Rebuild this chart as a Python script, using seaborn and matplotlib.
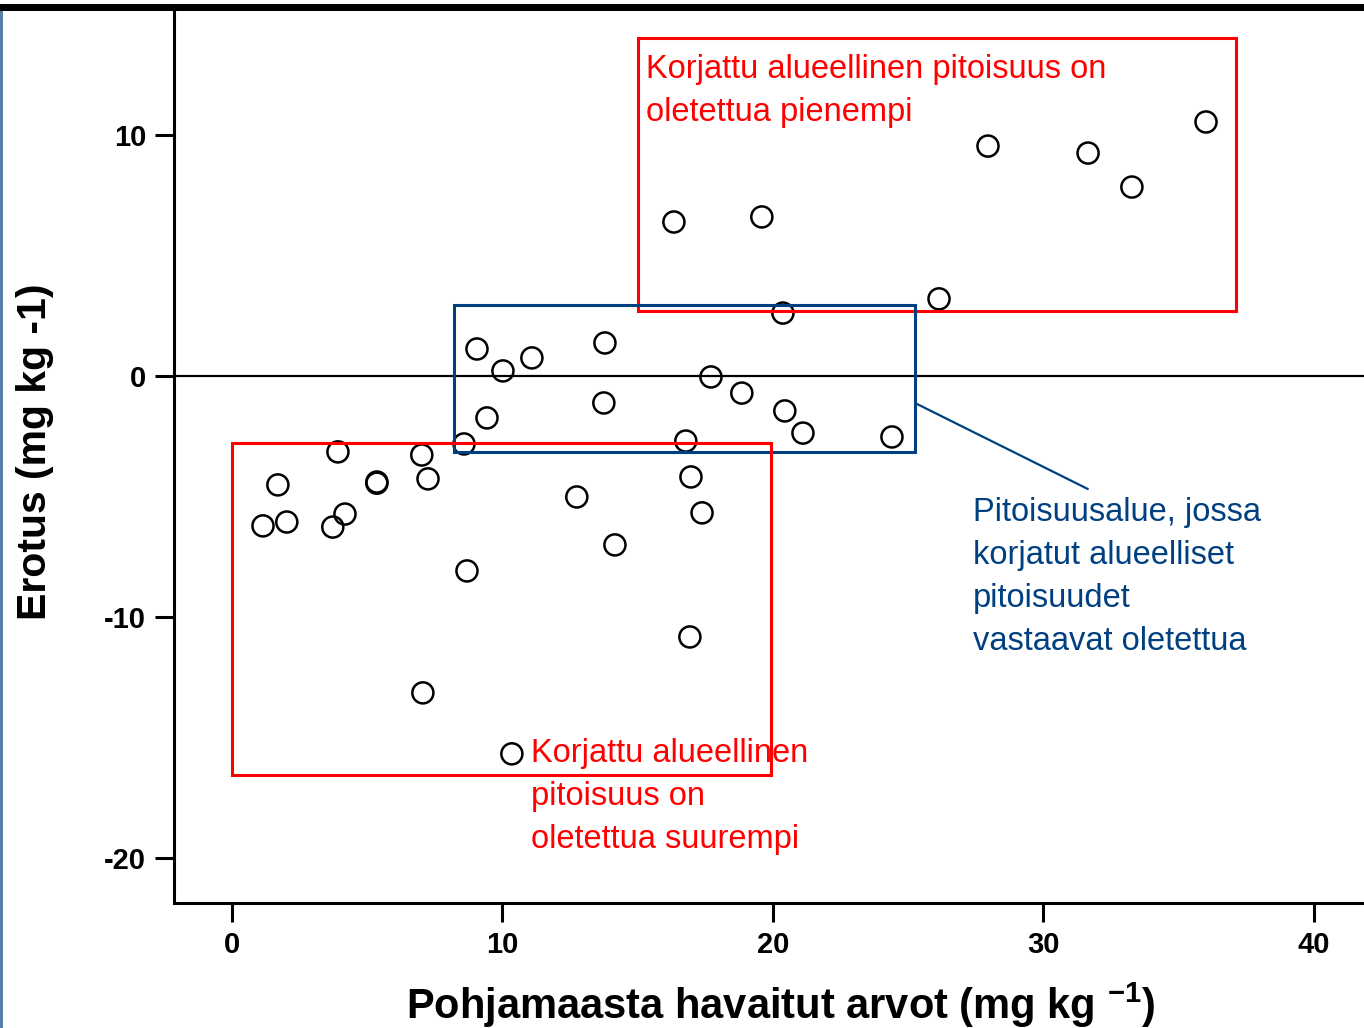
import matplotlib
matplotlib.use('Agg')
import matplotlib.pyplot as plt
from matplotlib.patches import Rectangle
import seaborn as sns
import pandas as pd

# havaitut arvot (x) ja erotus (y)
havaitut = [16.34, 19.59, 27.95, 31.65, 33.27, 36.01, 26.14, 20.37,
            9.06, 10.02, 11.09, 13.79, 9.43, 13.75, 17.71, 18.85, 20.44,
            21.11, 24.40, 16.78, 8.58,
            3.92, 7.02, 7.25, 5.36, 5.36, 1.70, 1.15, 2.03, 3.73, 4.18,
            8.69, 7.06, 12.75, 14.16, 16.97, 17.38, 16.93, 10.35]
erotus = [6.39, 6.60, 9.54, 9.25, 7.84, 10.54, 3.20, 2.61,
          1.12, 0.21, 0.75, 1.37, -1.74, -1.12, -0.04, -0.71, -1.45,
          -2.37, -2.53, -2.70, -2.82,
          -3.15, -3.28, -4.27, -4.40, -4.45, -4.52, -6.22, -6.06, -6.27, -5.73,
          -8.09, -13.15, -5.02, -7.01, -4.19, -5.68, -10.83, -15.68]

x_ticks = [0, 10, 20, 30, 40]
y_ticks = [10, 0, -10, -20]

# laatikot: (x0, y0, x1, y1)
box_pienempi = (15.01, 2.70, 37.12, 14.02)
box_vastaava = (8.21, -3.15, 25.25, 2.95)
box_suurempi = (0.0, -16.56, 19.93, -2.78)

txt_pienempi = ['Korjattu alueellinen pitoisuus on', 'oletettua pienempi']
txt_vastaava = ['Pitoisuusalue, jossa', 'korjatut alueelliset',
                'pitoisuudet', 'vastaavat oletettua']
txt_suurempi = ['Korjattu alueellinen', 'pitoisuus on', 'oletettua suurempi']

df = pd.DataFrame({'havaitut': havaitut, 'erotus': erotus})

sns.set_style('ticks')
plt.rcParams['font.family'] = ['Liberation Sans', 'DejaVu Sans']
plt.rcParams['mathtext.fontset'] = 'custom'
plt.rcParams['mathtext.bf'] = 'Liberation Sans:bold'
plt.rcParams['mathtext.rm'] = 'Liberation Sans'
plt.rcParams['axes.unicode_minus'] = False
plt.rcParams['text.color'] = 'black'
plt.rcParams['axes.labelcolor'] = 'black'
plt.rcParams['xtick.color'] = 'black'
plt.rcParams['ytick.color'] = 'black'

RED = '#ff0000'
BLUE = '#004080'

fig = plt.figure(figsize=(13.64, 10.28), dpi=100)
ax = fig.add_axes([174 / 1364, 125 / 1028, 1190 / 1364, 895 / 1028])

sns.scatterplot(data=df, x='havaitut', y='erotus', ax=ax, marker='o', s=230,
                facecolor='none', edgecolor='black', linewidth=1.8, zorder=3)

ax.axhline(0, color='black', lw=1.6, zorder=2)

ax.set_xlim(-2.14, 41.85)
ax.set_ylim(-21.87, 15.27)
ax.set_xticks(x_ticks)
ax.set_yticks(y_ticks)
ax.tick_params(length=14, width=2.2, color='black', labelcolor='black',
               labelsize=21, pad=6)
for lab in ax.get_xticklabels() + ax.get_yticklabels():
    lab.set_fontweight('bold')

for s in ['top', 'right']:
    ax.spines[s].set_visible(False)
for s in ['left', 'bottom']:
    ax.spines[s].set_linewidth(2.2)
    ax.spines[s].set_color('black')

ax.set_xlabel('Pohjamaasta havaitut arvot (mg kg $^{\\mathbf{-1}}$)',
              fontsize=30, fontweight='bold')
ax.xaxis.set_label_coords(0.51, -0.114)
ax.xaxis.label.set_va('center')
ax.set_ylabel('Erotus (mg kg -1)', fontsize=29.5, fontweight='bold')
ax.yaxis.set_label_coords(-0.117, 0.504)
ax.yaxis.label.set_va('center')

# laatikot
for (x0, y0, x1, y1), col in [(box_pienempi, RED), (box_vastaava, BLUE),
                              (box_suurempi, RED)]:
    ax.add_patch(Rectangle((x0, y0), x1 - x0, y1 - y0, fill=False,
                           edgecolor=col, lw=2.2, zorder=4))

# yhdysviiva
ax.plot([25.25, 31.64], [-1.12, -4.69], color=BLUE, lw=1.6, zorder=4)

# tekstit
def rivit(lines, x, y0, dy, col):
    for i, t in enumerate(lines):
        ax.text(x, y0 - i * dy, t, color=col, fontsize=23.5,
                ha='left', va='baseline', zorder=5)

rivit(txt_pienempi, 15.30, 12.37, 1.79, RED)
rivit(txt_vastaava, 27.40, -6.02, 1.78, BLUE)
rivit(txt_suurempi, 11.06, -16.02, 1.79, RED)

# kalvon reunat
fig.add_artist(Rectangle((0, 1 - 11 / 1028), 1, 7 / 1028,
                         transform=fig.transFigure, color='black', lw=0))
fig.add_artist(Rectangle((0, 0), 3 / 1364, 1 - 11 / 1028,
                         transform=fig.transFigure, color='#5a7fa8', lw=0))

fig.savefig('out.png', dpi=100)
